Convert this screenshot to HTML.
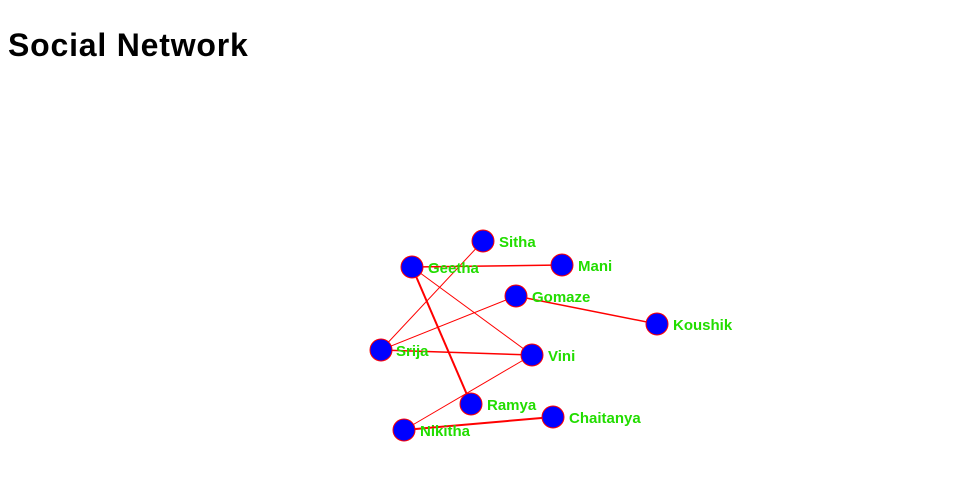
<!DOCTYPE html>
<html><head><style>
body{margin:0;width:960px;height:500px;background:#fff;overflow:hidden;font-family:"Liberation Sans",sans-serif}
h1{position:absolute;left:8px;top:26px;margin:0;font-size:32px;font-weight:bold;line-height:38px;letter-spacing:0.8px}
</style></head><body>
<h1>Social Network</h1>
<svg width="960" height="500" style="position:absolute;left:0;top:0">
<g stroke="red" fill="none">
<line x1="483" y1="241" x2="381" y2="350" stroke-width="1"/>
<line x1="412" y1="267" x2="562" y2="265" stroke-width="1.5"/>
<line x1="412" y1="267" x2="532" y2="355" stroke-width="1"/>
<line x1="412" y1="267" x2="471" y2="404" stroke-width="2"/>
<line x1="516" y1="296" x2="381" y2="350" stroke-width="1"/>
<line x1="516" y1="296" x2="657" y2="324" stroke-width="1.5"/>
<line x1="381" y1="350" x2="532" y2="355" stroke-width="1.5"/>
<line x1="532" y1="355" x2="404" y2="430" stroke-width="1"/>
<line x1="404" y1="430" x2="553" y2="417" stroke-width="2"/>
</g>
<g fill="#0000ff" stroke="red" stroke-width="1">
<circle cx="483" cy="241" r="11"/><circle cx="412" cy="267" r="11"/><circle cx="562" cy="265" r="11"/>
<circle cx="516" cy="296" r="11"/><circle cx="657" cy="324" r="11"/><circle cx="381" cy="350" r="11"/>
<circle cx="532" cy="355" r="11"/><circle cx="471" cy="404" r="11"/><circle cx="553" cy="417" r="11"/>
<circle cx="404" cy="430" r="11"/>
</g>
<g fill="#22dd00" font-family="Liberation Sans, sans-serif" font-size="15" font-weight="bold">
<text x="499" y="247">Sitha</text><text x="428" y="273">Geetha</text><text x="578" y="271">Mani</text>
<text x="532" y="302">Gomaze</text><text x="673" y="330">Koushik</text><text x="396" y="356">Srija</text>
<text x="548" y="361">Vini</text><text x="487" y="410">Ramya</text><text x="569" y="423">Chaitanya</text>
<text x="420" y="436">Nikitha</text>
</g>
</svg>
</body></html>
